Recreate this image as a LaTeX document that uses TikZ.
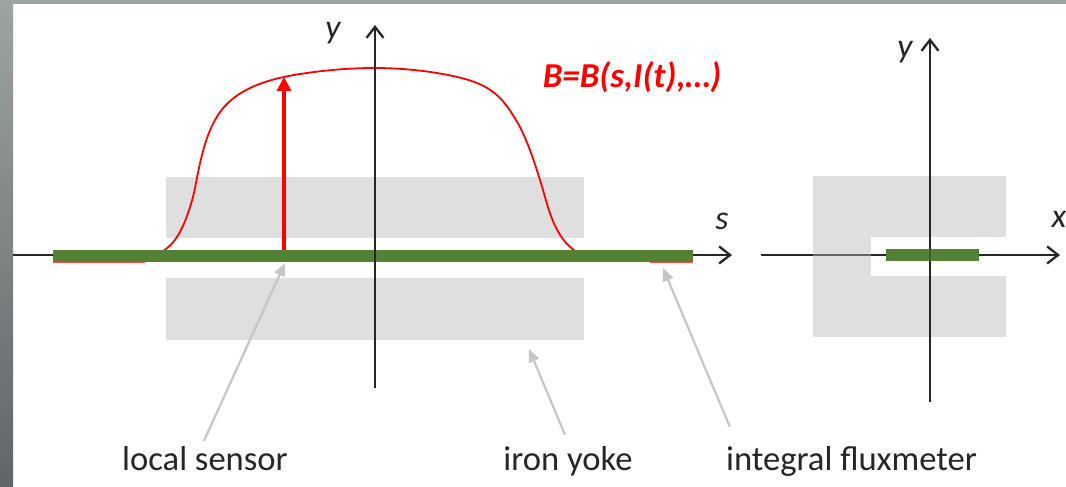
\documentclass[tikz,border=0pt]{standalone}
\usepackage{fontspec}
\usepackage{xcolor}
\setmainfont{Carlito}
\usetikzlibrary{arrows.meta, positioning, calc}
\definecolor{yokegray}{HTML}{DFDFDF}
\definecolor{barnegreen}{HTML}{548235}
\definecolor{pointergray}{HTML}{C6C6C6}
\definecolor{edgetop}{HTML}{9AA5A1}
\definecolor{edgebottom}{HTML}{606569}
\tikzset{
  axisline/.style={black!85, line width=2.3pt, -{Straight Barb[length=11pt,width=17pt,line width=2.3pt]}},
  pointer/.style={pointergray, line width=2.2pt, -{Triangle[length=13pt,width=11pt]}},
  caption/.style={font=\fontsize{34.6}{40}\selectfont, text=black!85, inner sep=0pt, text height=24pt, text depth=8pt},
  axislabel/.style={font=\fontsize{34}{40}\selectfont\itshape, text=black!85, inner sep=0pt},
}
\begin{document}
\begin{tikzpicture}[x=1pt,y=-1pt]
\useasboundingbox (0,0) rectangle (1066,487);
% Slide edge
\fill[white] (0,0) rectangle (1066,487);
\shade[top color=edgetop, bottom color=edgebottom] (0,0) rectangle (13,487);
\fill[edgetop] (0,0) rectangle (1066,4);
% Iron yoke, long section
\fill[yokegray] (166,177) rectangle (584,238);
\fill[yokegray] (166,278) rectangle (584,340);
% Iron yoke, cross section
\fill[yokegray] (813,176) rectangle (1006,237);
\fill[yokegray] (813,276) rectangle (1006,337);
\fill[yokegray] (813,237) rectangle (871,276);
% Axes
\coordinate (sstart) at (13,255);
\coordinate (send) at (732,255);
\coordinate (ybottom) at (375,388);
\coordinate (ytop) at (375,25);
\coordinate (xstart) at (761,255);
\coordinate (xend) at (1060,255);
\coordinate (ybottomr) at (930,402);
\coordinate (ytopr) at (930,38);
\draw[axisline] (sstart) -- (send);
\draw[axisline] (xstart) -- (xend);
\draw[axisline] (ybottomr) -- (ytopr);
% Spine shows the axis dimmed
\draw[yokegray, line width=2.3pt, opacity=0.35] (813,255) -- (871,255);
% Field curve
\draw[red, line width=1.8pt] (163,251) .. controls (178,242) and (186,222) .. (193,197)
  .. controls (199,172) and (203,130) .. (225,106)
  .. controls (240,90) and (262,80) .. (300,74)
  .. controls (320,71) and (345,68) .. (375,68)
  .. controls (405,68) and (440,72) .. (465,79)
  .. controls (495,87) and (506,102) .. (520,127)
  .. controls (530,147) and (537,170) .. (543,190)
  .. controls (550,215) and (556,237) .. (575,251);
\draw[red!70, line width=1pt] (53,262) -- (145,262);
\draw[red!70, line width=1pt] (650,262) -- (693,262);
% Fluxmeter bars
\fill[barnegreen] (53,250) rectangle (693,262);
\fill[barnegreen] (886,249) rectangle (979,261);
% Axis over the bars
\draw[axisline] (ybottom) -- (ytop);
\draw[black!85, line width=2.3pt, opacity=0.4] (930,249) -- (930,261);
% Local field
\coordinate (fieldfoot) at (284,250);
\coordinate (fieldtop) at (284,77);
\draw[red, line width=3.6pt, -{Triangle[length=14pt,width=14pt]}] (fieldfoot) -- (fieldtop);
% Labels
\node[axislabel] (ylabel) at (333,33) {y};
\node[axislabel] (slabel) at (722,221) {s};
\node[axislabel] (ylabelr) at (905,52) {y};
\node[axislabel] (xlabel) at (1059,219) {x};
\node[font=\fontsize{35}{42}\selectfont\bfseries\itshape, text=red, inner sep=0pt] (fieldlabel) at (632,77) {B=B(s,I(t),…)};
\node[caption] (sensor) at (205,462) {local sensor};
\node[caption] (yoke) at (568,462) {iron yoke};
\node[caption] (flux) at (851.5,462) {integral fluxmeter};
% Pointers
\coordinate (sensorhead) at (285,263);
\coordinate (yokehead) at (529,349);
\coordinate (fluxhead) at (663,268);
\draw[pointer] ($(sensor.north)+(-1,-5)$) -- (sensorhead);
\draw[pointer] ($(yoke.north)+(-3,-11)$) -- (yokehead);
\draw[pointer] ($(flux.north west)+(4,-19)$) -- (fluxhead);
\end{tikzpicture}
\end{document}
